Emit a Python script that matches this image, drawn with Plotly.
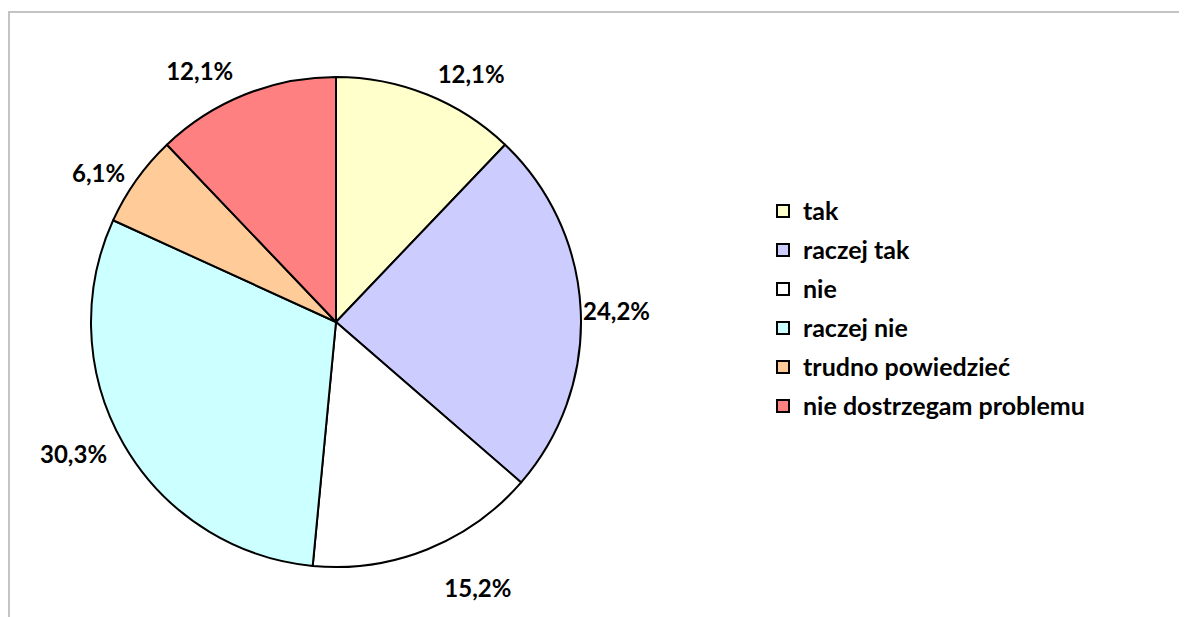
import plotly.graph_objects as go

categories = ["tak", "raczej tak", "nie", "raczej nie", "trudno powiedzieć", "nie dostrzegam problemu"]
counts = [4, 8, 5, 10, 2, 4]
pct_labels = ["12,1%", "24,2%", "15,2%", "30,3%", "6,1%", "12,1%"]
colors = ["#FFFFCC", "#CCCCFF", "#FFFFFF", "#CCFFFF", "#FFCC99", "#FF8080"]
# extra outward offset of each percentage label (pixels)
label_offsets = [14, 0, 32, 16, 10, 17]

W, H = 1179, 609
cx, cy, r = 328, 314, 245   # pie centre / radius in figure pixels
r_lab = 240                  # base radius used to place the outside labels

legend_names = [f'<span style="font-size:25px;baseline-shift:2px">{c}</span>' for c in categories]


def dom(rad):
    return dict(x=[(cx - rad) / W, (cx + rad) / W], y=[1 - (cy + rad) / H, 1 - (cy - rad) / H])


pulls = [o / r_lab for o in label_offsets]
max_pull = max(pulls)

pie = go.Pie(
    labels=legend_names,
    values=counts,
    textinfo="none",
    marker=dict(colors=colors, line=dict(color="black", width=2)),
    sort=False,
    direction="clockwise",
    rotation=0,
    hoverinfo="skip",
    domain=dom(r),
)

label_pie = go.Pie(
    labels=legend_names,
    values=counts,
    text=pct_labels,
    texttemplate="%{text}",
    textposition="outside",
    textfont=dict(family="Lato", size=24, color="black", weight="bold"),
    marker=dict(colors=["rgba(0,0,0,0)"] * len(counts), line=dict(width=0)),
    pull=pulls,
    sort=False,
    direction="clockwise",
    rotation=0,
    hoverinfo="skip",
    showlegend=False,
    automargin=False,
    domain=dom(r_lab * (1 + max_pull)),
)

fig = go.Figure([pie, label_pie])

fig.update_layout(
    width=W, height=H,
    autosize=False,
    margin=dict(l=0, r=0, t=0, b=0, pad=0, autoexpand=False),
    paper_bgcolor="white",
    plot_bgcolor="white",
    showlegend=True,
    legend=dict(
        x=755 / W, y=1 - 301 / H, xanchor="left", yanchor="middle",
        font=dict(family="Lato", size=27.7, color="black", weight="bold"),
        itemwidth=30,
        bgcolor="rgba(0,0,0,0)",
    ),
    shapes=[
        dict(type="line", xref="paper", yref="paper", x0=0, x1=1.01, y0=1 - 4 / H, y1=1 - 4 / H,
             line=dict(color="#c4c4c4", width=2)),
        dict(type="line", xref="paper", yref="paper", x0=1 / W, x1=1 / W, y0=1 - 4 / H, y1=-0.01,
             line=dict(color="#c4c4c4", width=2)),
    ],
)

fig.write_html("out.html")
